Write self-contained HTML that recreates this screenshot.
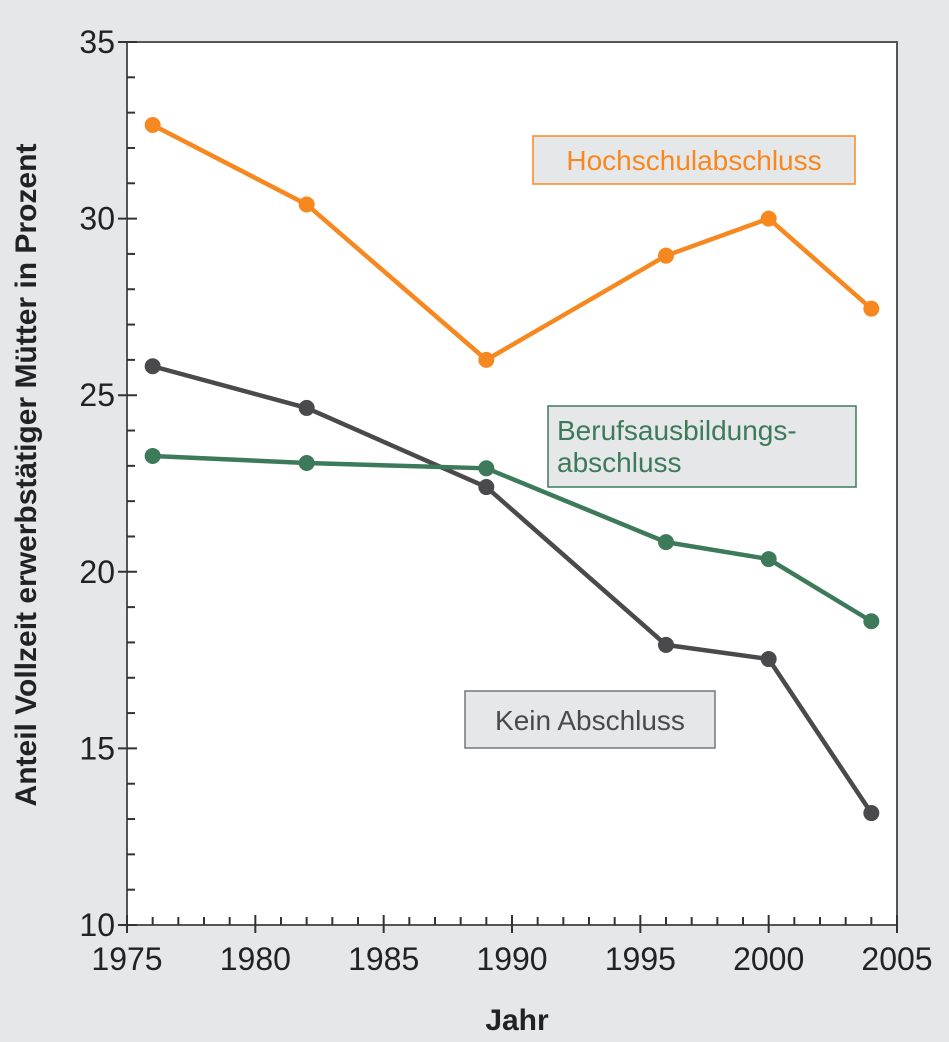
<!DOCTYPE html>
<html><head><meta charset="utf-8"><style>
html,body{margin:0;padding:0;background:#e6e7e9;}
svg{display:block;font-family:"Liberation Sans",Arial,sans-serif;}
</style></head><body>
<svg width="949" height="1042" viewBox="0 0 949 1042" id="chart">
<rect x="0" y="0" width="949" height="1042" fill="#e6e7e9"/>
<rect x="127" y="42" width="770" height="883" fill="#fff" stroke="#555" stroke-width="2"/>
<g id="axes"></g>
<g id="series"></g>
<g>
<rect x="533" y="136" width="322" height="48" fill="#e6e7e9" stroke="#f7881f" stroke-width="1.5"/>
<text x="694" y="170" font-size="28" fill="#f7881f" text-anchor="middle">Hochschulabschluss</text></g>
<g>
<rect x="548" y="406" width="308" height="81" fill="#e6e7e9" stroke="#3d7a5a" stroke-width="1.5"/>
<text x="557" y="440" font-size="28" fill="#3d7a5a">Berufsausbildungs-</text>
<text x="557" y="472" font-size="28" fill="#3d7a5a">abschluss</text></g>
<g>
<rect x="465" y="691" width="250" height="57" fill="#e6e7e9" stroke="#777" stroke-width="1.5"/>
<text x="590" y="730" font-size="28" fill="#4a4a4c" text-anchor="middle">Kein Abschluss</text></g>
<text x="517" y="1030" font-size="30" font-weight="bold" fill="#222" text-anchor="middle">Jahr</text>
<text transform="translate(36,475) rotate(-90)" font-size="30" font-weight="bold" fill="#222" text-anchor="middle">Anteil Vollzeit erwerbstätiger Mütter in Prozent</text>
</svg>
<script>
const years = [1976, 1982, 1989, 1996, 2000, 2004];
const hochschul = [32.65, 30.4, 26.0, 28.95, 30.0, 27.45];
const beruf = [23.28, 23.08, 22.93, 20.84, 20.36, 18.6];
const kein = [25.82, 24.64, 22.4, 17.93, 17.53, 13.17];
const xTicks = [1975, 1980, 1985, 1990, 1995, 2000, 2005];
const yTicks = [10, 15, 20, 25, 30, 35];
const NS='http://www.w3.org/2000/svg';
const X0=127,X1=897,Y0=925,Y1=42;
const xs=v=>X0+(v-1975)/30*(X1-X0);
const ys=v=>Y0-(v-10)/25*(Y0-Y1);
const axes=document.getElementById('axes');
function mk(t,a,p){const e=document.createElementNS(NS,t);for(const k in a)e.setAttribute(k,a[k]);p.appendChild(e);return e;}
for(let y=1975;y<=2005;y++){
  const x=xs(y);const maj=y%5===0;
  const l=mk('line',{x1:x,x2:x,y1:maj?Y0+8:Y0,y2:Y0-(maj?10:8),stroke:'#333','stroke-width':2},axes);
  
  
}
for(let v=10;v<=35;v++){
  const y=ys(v);const maj=v%5===0;
  const l=mk('line',{x1:maj?X0-9:X0,x2:X0+(maj?10:8),y1:y,y2:y,stroke:'#333','stroke-width':2},axes);
  
  
}
xTicks.forEach(v=>{const t=mk('text',{x:xs(v),y:970,'font-size':32,fill:'#222','text-anchor':'middle'},axes);t.textContent=v;
  
  });
yTicks.forEach(v=>{const t=mk('text',{x:115,y:ys(v)+11,'font-size':32,fill:'#222','text-anchor':'end'},axes);t.textContent=v;
  
  });
const sg=document.getElementById('series');
[[kein,'#4a4a4c','kein'],[beruf,'#3d7a5a','beruf'],[hochschul,'#f7881f','hochschul']].forEach(([d,c,n])=>{
  const g=mk('g',{},sg);
  
  
  const p=mk('polyline',{points:d.map((v,i)=>xs(years[i])+','+ys(v)).join(' '),fill:'none',stroke:c,'stroke-width':4.5,'stroke-linejoin':'round'},g);
  
  
  d.forEach((v,i)=>{const m=mk('circle',{cx:xs(years[i]),cy:ys(v),r:8,fill:c},g);
    
    });
});
</script>
</body></html>
